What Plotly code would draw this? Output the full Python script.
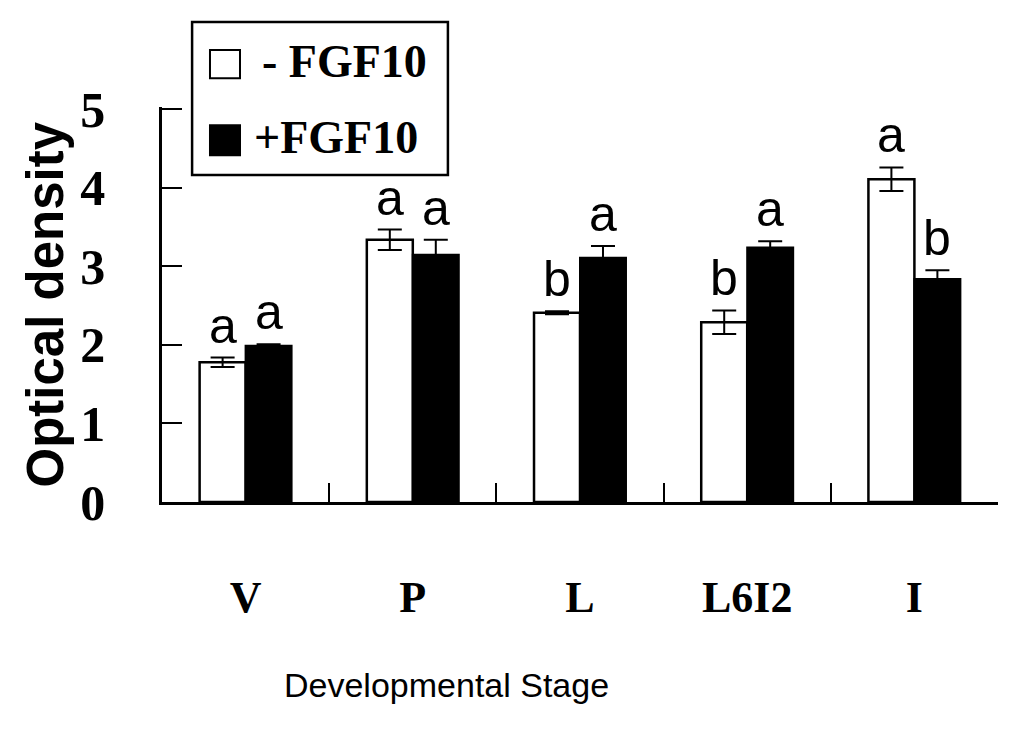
import plotly.graph_objects as go

# Data
stages = ["V", "P", "L", "L6I2", "I"]
minus_fgf10 = [1.78, 3.34, 2.41, 2.29, 4.11]
minus_err = [0.06, 0.13, 0.02, 0.15, 0.15]
plus_fgf10 = [1.99, 3.15, 3.11, 3.24, 2.84]
plus_err = [0.02, 0.19, 0.15, 0.08, 0.11]
minus_letters = ["a", "a", "b", "b", "a"]
plus_letters = ["a", "a", "a", "a", "b"]
y_ticks = [0, 1, 2, 3, 4, 5]

serif = "Liberation Serif"
sans = "Liberation Sans"

fig = go.Figure()

fig.add_trace(go.Bar(
    x=stages, y=minus_fgf10, name="- FGF10",
    marker=dict(color="white", line=dict(color="black", width=2.5)),
    error_y=dict(type="data", array=minus_err, color="black", thickness=2, width=12),
))
fig.add_trace(go.Bar(
    x=stages, y=plus_fgf10, name="+FGF10",
    marker=dict(color="black", line=dict(color="black", width=2)),
    error_y=dict(type="data", array=plus_err, color="black", thickness=2, width=12),
))

# significance letters above each bar
annotations = []
for i, st in enumerate(stages):
    for val, err, lab, shift in [(minus_fgf10[i], minus_err[i], minus_letters[i], -23),
                                 (plus_fgf10[i], plus_err[i], plus_letters[i], 23)]:
        annotations.append(dict(
            x=st, y=val + err, xref="x", yref="y", text=lab, showarrow=False,
            xshift=shift, yshift=2, xanchor="center", yanchor="bottom",
            font=dict(family=sans, size=50, color="black"),
        ))

# axis titles
annotations.append(dict(
    x=0, y=0.5, xref="paper", yref="paper", xshift=-117, text="<b>Optical density</b>",
    textangle=-90, showarrow=False, xanchor="center", yanchor="middle",
    font=dict(family=sans, size=51, color="black"),
))
annotations.append(dict(
    x=0.34, y=-0.463, xref="paper", yref="paper", text="Developmental Stage",
    showarrow=False, xanchor="center", yanchor="middle",
    font=dict(family=sans, size=34, color="black"),
))

# legend drawn by hand so the swatches can be large
annotations.append(dict(
    x=0.117, y=1.116, xref="paper", yref="paper", text="- FGF10",
    xanchor="left", yanchor="middle", showarrow=False,
    font=dict(family=serif, size=46, color="black", weight="bold"),
))
annotations.append(dict(
    x=0.108, y=0.922, xref="paper", yref="paper", text="+FGF10",
    xanchor="left", yanchor="middle", showarrow=False,
    font=dict(family=serif, size=46, color="black", weight="bold"),
))

shapes = [
    dict(type="rect", xref="paper", yref="paper", x0=0.036, x1=0.342, y0=0.828, y1=1.215,
         line=dict(color="black", width=2.5), fillcolor="white", layer="below"),
    dict(type="rect", xref="paper", yref="paper", x0=0.0574, x1=0.0933, y0=1.073, y1=1.144,
         line=dict(color="black", width=2), fillcolor="white", layer="above"),
    dict(type="rect", xref="paper", yref="paper", x0=0.0574, x1=0.0933, y0=0.878, y1=0.954,
         line=dict(color="black", width=2), fillcolor="black", layer="above"),
]

# page body has an 8px margin, so the figure is a bit smaller than the window
fig.update_layout(
    width=1016, height=724,
    margin=dict(l=154, r=26, t=99, b=230),
    paper_bgcolor="white", plot_bgcolor="white",
    barmode="group", bargap=0.45, bargroupgap=0,
    showlegend=False,
    annotations=annotations, shapes=shapes,
)
fig.update_xaxes(
    showline=True, linecolor="black", linewidth=2.5,
    ticks="inside", tickson="boundaries", ticklen=19, tickwidth=2, tickcolor="black",
    tickfont=dict(family=serif, size=44, color="black", weight="bold"),
    ticklabelstandoff=54, showgrid=False, zeroline=False,
)
fig.update_yaxes(
    range=[0, 5.03], tickvals=y_ticks,
    showline=True, linecolor="black", linewidth=2.5,
    ticks="inside", ticklen=20, tickwidth=2, tickcolor="black",
    tickfont=dict(family=serif, size=50, color="black", weight="bold"),
    ticklabelstandoff=44, showgrid=False, zeroline=False,
)

fig.write_html("out.html")
